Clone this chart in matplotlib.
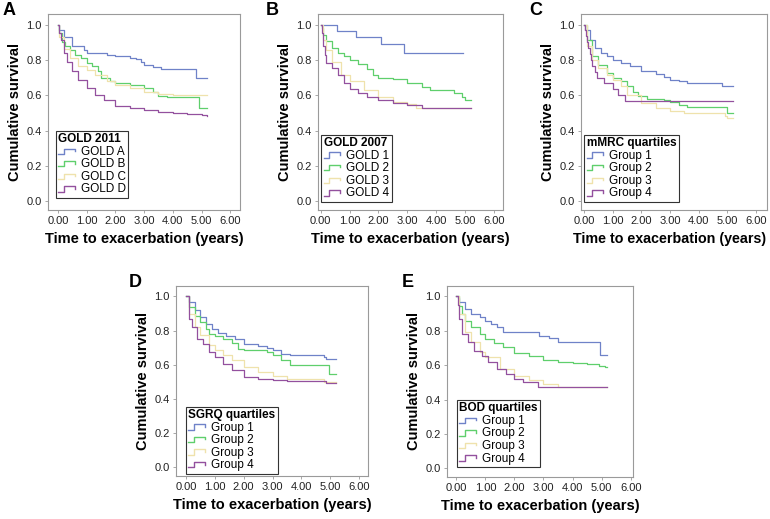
import matplotlib.pyplot as plt
from matplotlib.legend_handler import HandlerBase
from matplotlib.lines import Line2D

plt.rcParams['font.family'] = ['Liberation Sans', 'DejaVu Sans']

BLUE = '#6f82c8'
GREEN = '#5fcf6c'
BEIGE = '#efe2ac'
PURPLE = '#93509e'

# Kaplan-Meier step knots (time in years, cumulative survival)
# Panel A - GOLD 2011
gold_a = [(0, 1.0), (0.05, 0.97), (0.2, 0.93), (0.5, 0.88), (0.9, 0.855), (1.0, 0.84),
          (1.7, 0.83), (2.0, 0.822), (2.5, 0.812), (2.7, 0.805), (2.9, 0.79), (3.0, 0.77),
          (3.3, 0.76), (3.6, 0.75), (4.8, 0.70), (5.2, 0.70)]
gold_b = [(0, 1.0), (0.05, 0.95), (0.15, 0.9), (0.25, 0.877), (0.4, 0.858), (0.6, 0.83),
          (0.8, 0.81), (1.0, 0.78), (1.2, 0.763), (1.4, 0.735), (1.5, 0.70), (1.8, 0.68),
          (2.0, 0.668), (2.5, 0.66), (3.0, 0.64), (3.3, 0.62), (3.5, 0.593), (3.8, 0.59),
          (4.9, 0.53), (5.2, 0.53)]
gold_c = [(0, 1.0), (0.05, 0.93), (0.2, 0.86), (0.4, 0.81), (0.7, 0.763), (1.0, 0.745),
          (1.3, 0.716), (1.7, 0.68), (2.0, 0.66), (2.5, 0.64), (3.0, 0.62), (3.5, 0.605),
          (4.0, 0.60), (5.2, 0.60)]
gold_d = [(0, 1.0), (0.05, 0.95), (0.1, 0.915), (0.2, 0.84), (0.3, 0.79), (0.5, 0.735),
          (0.7, 0.687), (1.0, 0.64), (1.3, 0.60), (1.6, 0.574), (2.0, 0.54), (2.5, 0.527),
          (3.0, 0.517), (3.5, 0.504), (4.0, 0.498), (4.5, 0.494), (5.0, 0.489), (5.2, 0.485)]

# Panel B - GOLD 2007
gold_1 = [(0, 1.0), (0.55, 0.966), (1.21, 0.93), (2.09, 0.89), (2.89, 0.84), (4.93, 0.84)]
gold_2 = [(0, 1.0), (0.05, 0.98), (0.1, 0.943), (0.2, 0.905), (0.4, 0.867), (0.6, 0.84),
          (0.8, 0.82), (1.0, 0.80), (1.3, 0.776), (1.6, 0.75), (1.8, 0.716), (2.0, 0.70),
          (2.5, 0.69), (3.0, 0.668), (3.5, 0.646), (3.8, 0.63), (4.5, 0.627), (4.6, 0.61),
          (4.9, 0.59), (5.0, 0.574), (5.2, 0.574)]
gold_3 = [(0, 1.0), (0.1, 0.915), (0.2, 0.858), (0.4, 0.79), (0.7, 0.716), (1.0, 0.68),
          (1.5, 0.63), (2.0, 0.59), (2.5, 0.564), (3.0, 0.55), (3.3, 0.53), (5.2, 0.53)]
gold_4 = [(0, 1.0), (0.05, 0.95), (0.1, 0.877), (0.15, 0.83), (0.2, 0.78), (0.4, 0.754),
          (0.6, 0.716), (0.8, 0.668), (1.0, 0.634), (1.3, 0.615), (1.6, 0.59), (2.0, 0.574),
          (2.5, 0.558), (3.0, 0.545), (3.5, 0.53), (5.2, 0.53)]

# Panel C - mMRC quartiles
mmrc_1 = [(0, 1.0), (0.05, 0.97), (0.2, 0.915), (0.4, 0.867), (0.6, 0.84), (0.8, 0.82),
          (1.0, 0.80), (1.3, 0.78), (1.6, 0.763), (2.0, 0.74), (2.5, 0.72), (2.8, 0.706),
          (3.0, 0.687), (3.3, 0.68), (3.6, 0.668), (4.8, 0.65), (5.2, 0.65)]
mmrc_2 = [(0, 1.0), (0.1, 0.915), (0.3, 0.82), (0.5, 0.773), (0.8, 0.725), (1.0, 0.697),
          (1.3, 0.678), (1.5, 0.653), (1.7, 0.62), (1.9, 0.593), (2.2, 0.58), (2.8, 0.574),
          (3.0, 0.564), (3.3, 0.545), (3.6, 0.536), (5.0, 0.498), (5.2, 0.498)]
mmrc_3 = [(0, 1.0), (0.1, 0.877), (0.3, 0.80), (0.5, 0.754), (0.8, 0.716), (1.0, 0.687),
          (1.3, 0.65), (1.5, 0.602), (2.0, 0.555), (2.5, 0.527), (3.0, 0.508), (3.5, 0.498),
          (4.9, 0.48), (5.0, 0.47), (5.2, 0.47)]
mmrc_4 = [(0, 1.0), (0.03, 0.967), (0.08, 0.933), (0.12, 0.90), (0.15, 0.867), (0.2, 0.833),
          (0.25, 0.80), (0.3, 0.767), (0.4, 0.733), (0.45, 0.70), (0.7, 0.667), (1.0, 0.633),
          (1.2, 0.60), (1.45, 0.567), (5.2, 0.567)]

# Panel D - SGRQ quartiles
sgrq_1 = [(0, 1.0), (0.1, 0.965), (0.3, 0.917), (0.5, 0.878), (0.7, 0.84), (0.9, 0.81),
          (1.1, 0.786), (1.4, 0.77), (1.7, 0.75), (2.0, 0.72), (2.5, 0.71), (2.8, 0.697),
          (3.0, 0.684), (3.3, 0.665), (3.6, 0.656), (4.8, 0.646), (4.85, 0.635), (5.2, 0.635)]
sgrq_2 = [(0, 1.0), (0.1, 0.936), (0.3, 0.887), (0.5, 0.849), (0.7, 0.81), (0.8, 0.78),
          (1.0, 0.77), (1.3, 0.75), (1.6, 0.728), (1.8, 0.693), (2.0, 0.684), (2.8, 0.674),
          (3.0, 0.654), (3.3, 0.625), (3.6, 0.60), (4.95, 0.548), (5.2, 0.548)]
sgrq_3 = [(0, 1.0), (0.1, 0.897), (0.3, 0.82), (0.5, 0.771), (0.8, 0.713), (1.0, 0.684),
          (1.3, 0.654), (1.6, 0.625), (2.0, 0.586), (2.5, 0.557), (3.0, 0.534), (3.5, 0.518),
          (4.0, 0.515), (4.8, 0.50), (5.2, 0.50)]
sgrq_4 = [(0, 1.0), (0.1, 0.868), (0.2, 0.82), (0.4, 0.75), (0.6, 0.722), (0.8, 0.674),
          (1.0, 0.645), (1.3, 0.606), (1.6, 0.567), (2.0, 0.528), (2.5, 0.518), (3.0, 0.513),
          (3.5, 0.505), (4.85, 0.495), (5.2, 0.495)]

# Panel E - BOD quartiles
bod_1 = [(0, 1.0), (0.05, 0.99), (0.1, 0.965), (0.3, 0.926), (0.5, 0.897), (0.8, 0.878),
         (1.0, 0.858), (1.2, 0.839), (1.4, 0.82), (1.6, 0.795), (2.85, 0.771), (3.2, 0.756),
         (3.5, 0.736), (4.95, 0.659), (5.2, 0.659)]
bod_2 = [(0, 1.0), (0.1, 0.946), (0.2, 0.897), (0.3, 0.858), (0.5, 0.82), (0.8, 0.78),
         (1.0, 0.752), (1.3, 0.729), (1.6, 0.703), (2.0, 0.671), (2.5, 0.651), (3.0, 0.632),
         (3.5, 0.616), (4.0, 0.612), (4.5, 0.607), (4.9, 0.597), (5.1, 0.587), (5.2, 0.587)]
bod_3 = [(0, 1.0), (0.1, 0.897), (0.3, 0.79), (0.5, 0.733), (0.8, 0.674), (1.0, 0.645),
         (1.5, 0.578), (2.0, 0.539), (2.5, 0.516), (3.0, 0.49), (3.5, 0.475), (5.2, 0.475)]
bod_4 = [(0, 1.0), (0.05, 0.95), (0.1, 0.868), (0.2, 0.78), (0.4, 0.733), (0.6, 0.684),
         (0.9, 0.655), (1.1, 0.616), (1.4, 0.578), (1.7, 0.549), (2.0, 0.52), (2.3, 0.504),
         (2.8, 0.475), (5.2, 0.475)]

panels = [
    ('A', 'GOLD 2011', ['GOLD A', 'GOLD B', 'GOLD C', 'GOLD D'], [gold_a, gold_b, gold_c, gold_d]),
    ('B', 'GOLD 2007', ['GOLD 1', 'GOLD 2', 'GOLD 3', 'GOLD 4'], [gold_1, gold_2, gold_3, gold_4]),
    ('C', 'mMRC quartiles', ['Group 1', 'Group 2', 'Group 3', 'Group 4'], [mmrc_1, mmrc_2, mmrc_3, mmrc_4]),
    ('D', 'SGRQ quartiles', ['Group 1', 'Group 2', 'Group 3', 'Group 4'], [sgrq_1, sgrq_2, sgrq_3, sgrq_4]),
    ('E', 'BOD quartiles', ['Group 1', 'Group 2', 'Group 3', 'Group 4'], [bod_1, bod_2, bod_3, bod_4]),
]
colors = [BLUE, GREEN, BEIGE, PURPLE]

W, H = 770, 519
# axes box in pixels (left, top, right, bottom), xlim, legend anchor, letter position (px),
# x-label (size, x position in axes fraction)
boxes = [
    ((48, 14, 240, 210), (-0.35, 6.34), (0.03, 0.05), (3, 2), (10.5, 0.5)),
    ((318, 14, 503, 210), (-0.09, 6.31), (0.005, 0.03), (266, 2), (10.5, 0.5)),
    ((581, 14, 767, 210), (-0.10, 6.38), (0.005, 0.03), (529, 2), (10.3, 0.478)),
    ((176, 286, 368, 476), (-0.345, 6.31), (0.04, 0.0), (129, 274), (10.5, 0.5)),
    ((447, 286, 633, 477), (-0.32, 6.08), (0.04, 0.04), (402, 274), (10.5, 0.5)),
]


class StepHandler(HandlerBase):
    def create_artists(self, legend, orig_handle, xdescent, ydescent, width, height, fontsize, trans):
        x0 = -xdescent
        y0 = -ydescent
        xs = [x0, x0 + 0.35 * width, x0 + 0.35 * width, x0 + width, x0 + width]
        ys = [y0 + 0.1 * height, y0 + 0.1 * height, y0 + 0.75 * height, y0 + 0.75 * height, y0 + 0.45 * height]
        ln = Line2D(xs, ys, color=orig_handle.get_color(), lw=1.0, transform=trans)
        return [ln]


fig = plt.figure(figsize=(W / 100, H / 100), dpi=100)
spine_col = '#9a9a9a'

for (letter, title, labels, curves), (box, xlim, lpos, lxy, xlab) in zip(panels, boxes):
    l, t, r, b = box
    ax = fig.add_axes([l / W, 1 - b / H, (r - l) / W, (b - t) / H])
    handles = []
    for lab, pts, c in zip(labels, curves, colors):
        ts = [p[0] for p in pts]
        ss = [p[1] for p in pts]
        h, = ax.step(ts, ss, where='post', color=c, lw=0.9, label=lab)
        handles.append(h)
    ax.set_xlim(*xlim)
    ax.set_ylim(-0.05, 1.06)
    ax.set_xticks([0, 1, 2, 3, 4, 5, 6])
    ax.set_xticklabels(['%.2f' % v for v in range(7)])
    ax.set_yticks([0, 0.2, 0.4, 0.6, 0.8, 1.0])
    ax.set_yticklabels(['%.1f' % v for v in [0, 0.2, 0.4, 0.6, 0.8, 1.0]])
    ax.tick_params(labelsize=8, length=2.5, width=0.6, color=spine_col, pad=2, labelcolor='#222222')
    for sp in ax.spines.values():
        sp.set_color(spine_col)
        sp.set_linewidth(0.8)
    ax.set_xlabel('Time to exacerbation (years)', fontsize=xlab[0], fontweight='bold', labelpad=4)
    if xlab[1] != 0.5:
        ax.xaxis.set_label_coords(xlab[1], -0.11)
    ax.set_ylabel('Cumulative survival', fontsize=10.5, fontweight='bold', labelpad=3)
    leg = ax.legend(handles=handles, title=title, loc='lower left', bbox_to_anchor=lpos,
                    fontsize=8.5, title_fontproperties={'weight': 'bold', 'size': 8.5},
                    handler_map={Line2D: StepHandler()}, handlelength=1.4, handletextpad=0.5,
                    labelspacing=0.05, borderpad=0.2, fancybox=False, framealpha=1,
                    edgecolor='#333333', borderaxespad=0.2)
    leg.get_frame().set_linewidth(0.8)
    leg._legend_box.align = 'left'
    fig.text(lxy[0] / W, 1 - lxy[1] / H, letter, fontsize=13, fontweight='bold',
             ha='left', va='top')

fig.savefig('out.png', dpi=100)
